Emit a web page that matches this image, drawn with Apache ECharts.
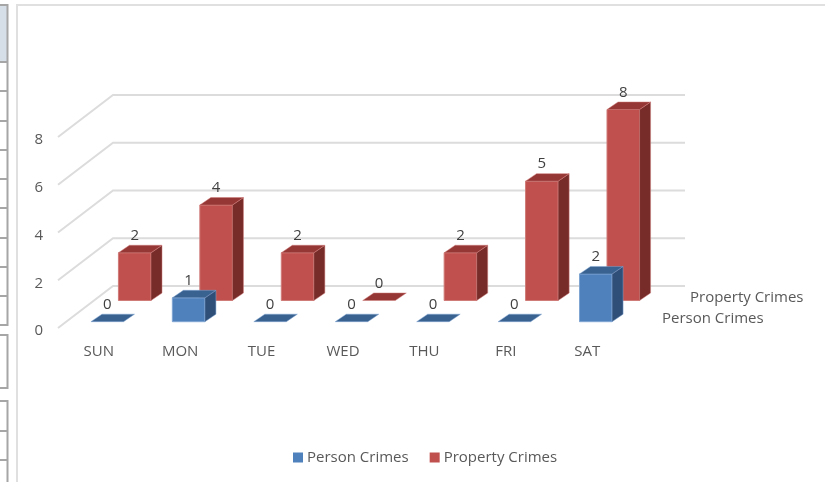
<!DOCTYPE html>
<html>
<head>
<meta charset="utf-8">
<title>Crimes by day</title>
<script src="https://cdn.jsdelivr.net/npm/echarts@6/dist/echarts.min.js"></script>
<style>
  html, body { margin: 0; padding: 0; background: #fff; }
  #chart { width: 831px; height: 482px; }
</style>
</head>
<body>
<div id="chart"></div>
<script>
const days = ['SUN', 'MON', 'TUE', 'WED', 'THU', 'FRI', 'SAT']
const personCrimes = [0, 1, 0, 0, 0, 0, 2]
const propertyCrimes = [2, 4, 2, 0, 2, 5, 8]
const yTicks = [0, 2, 4, 6, 8]

const FONT = '"Open Sans", sans-serif'
const TEXT = '#595959'

// floor depth in pixels, front edge of the floor to the back wall
const WALL_DX = 55
const WALL_DY = -42

// one bar as three faces plus its value on top
function barItem(params, api, offset, colors) {
  const day = api.value(0)
  const val = api.value(1)
  const base = api.coord([day, 0])
  const top = api.coord([day, val])
  const w = api.size([1, 0])[0] * 0.4
  const x0 = base[0] + offset.dx - w / 2
  const x1 = x0 + w
  const y0 = base[1] + offset.dy
  const y1 = top[1] + offset.dy
  const dx = 11
  const dy = -7.5
  const children = []
  if (val > 0) {
    children.push({
      type: 'polygon',
      shape: { points: [[x0, y0], [x1, y0], [x1, y1], [x0, y1]] },
      style: { fill: colors.front, stroke: colors.edge, lineWidth: 1 }
    })
    children.push({
      type: 'polygon',
      shape: { points: [[x1, y0], [x1 + dx, y0 + dy], [x1 + dx, y1 + dy], [x1, y1]] },
      style: { fill: colors.side, stroke: colors.edge, lineWidth: 0.5 }
    })
  }
  children.push({
    type: 'polygon',
    shape: { points: [[x0, y1], [x1, y1], [x1 + dx, y1 + dy], [x0 + dx, y1 + dy]] },
    style: { fill: colors.top, stroke: colors.edge, lineWidth: 0.5 }
  })
  children.push({
    type: 'text',
    style: {
      x: (x0 + x1) / 2,
      y: y1 - 17,
      text: String(val),
      fill: '#404040',
      font: '15px ' + FONT,
      align: 'center',
      verticalAlign: 'middle'
    }
  })
  return { type: 'group', children: children }
}

// wall and floor lines, one per y tick
function gridLine(params, api) {
  const v = api.value(0)
  const left = api.coord([0, v])
  const right = api.coord([days.length - 1, v])
  const half = api.size([1, 0])[0] / 2
  const xa = left[0] - half
  const xb = right[0] + half + 2
  return {
    type: 'polyline',
    shape: { points: [[xa, left[1]], [xa + WALL_DX, left[1] + WALL_DY], [xb + WALL_DX, left[1] + WALL_DY]] },
    style: { fill: 'none', stroke: '#DCDCDC', lineWidth: 2 }
  }
}

const chart = echarts.init(document.getElementById('chart'))
chart.setOption({
  animation: false,
  textStyle: { fontFamily: FONT },
  legend: {
    data: ['Person Crimes', 'Property Crimes'],
    left: 293,
    top: 450,
    icon: 'rect',
    itemWidth: 10,
    itemHeight: 10,
    itemGap: 21,
    textStyle: { color: TEXT, fontSize: 15, fontFamily: FONT, padding: [0, 0, 0, -1] },
    padding: 0
  },
  grid: { left: 58, top: 137, width: 570, height: 191 },
  xAxis: {
    type: 'category',
    data: days,
    axisLine: { show: false },
    axisTick: { show: false },
    axisLabel: { color: TEXT, fontSize: 15, margin: 16, fontFamily: FONT }
  },
  yAxis: {
    type: 'value',
    min: 0,
    max: 8,
    interval: 2,
    axisLine: { show: false },
    axisTick: { show: false },
    splitLine: { show: false },
    axisLabel: {
      margin: 15,
      formatter: '{v|{value}}',
      rich: { v: { color: TEXT, fontSize: 15, fontFamily: FONT, padding: [6, 0, 0, 0] } }
    }
  },
  series: [
    {
      type: 'custom',
      name: 'walls',
      silent: true,
      z: 1,
      encode: { y: 0 },
      data: yTicks.map(v => [v]),
      renderItem: gridLine
    },
    {
      type: 'custom',
      name: 'Property Crimes',
      z: 2,
      itemStyle: { color: '#C0504D' },
      encode: { x: 0, y: 1 },
      data: propertyCrimes.map((v, i) => [i, v]),
      renderItem: (params, api) => barItem(params, api, { dx: 36, dy: -27.5 }, {
        front: '#C0504D', top: '#953735', side: '#772C2A', edge: '#CF7B78'
      })
    },
    {
      type: 'custom',
      name: 'Person Crimes',
      z: 3,
      itemStyle: { color: '#4F81BD' },
      encode: { x: 0, y: 1 },
      data: personCrimes.map((v, i) => [i, v]),
      renderItem: (params, api) => barItem(params, api, { dx: 8.5, dy: -6.3 }, {
        front: '#4F81BD', top: '#3A6291', side: '#2F4F78', edge: '#7FA5D3'
      })
    }
  ],
  graphic: [
    // depth axis names
    { type: 'text', left: 690, top: 290, style: { text: 'Property Crimes', fill: TEXT, font: '15px ' + FONT } },
    { type: 'text', left: 662, top: 311, style: { text: 'Person Crimes', fill: TEXT, font: '15px ' + FONT } },
    // chart border
    { type: 'polyline', z: -1, shape: { points: [[17, 482], [17, 5], [825, 5]] }, style: { fill: 'none', stroke: '#E0E0E0', lineWidth: 2 } },
    // spreadsheet cells left of the chart
    { type: 'rect', z: -1, shape: { x: 0, y: 5, width: 7, height: 57 }, style: { fill: '#D6DEE8' } },
    { type: 'polyline', z: -1, shape: { points: [[0, 5], [7.5, 5], [7.5, 325], [0, 325]] }, style: { fill: 'none', stroke: '#A6A6A6', lineWidth: 2 } },
    { type: 'polyline', z: -1, shape: { points: [[0, 335], [7.5, 335], [7.5, 388], [0, 388]] }, style: { fill: 'none', stroke: '#A6A6A6', lineWidth: 2 } },
    { type: 'polyline', z: -1, shape: { points: [[0, 401], [7.5, 401], [7.5, 482]] }, style: { fill: 'none', stroke: '#A6A6A6', lineWidth: 2 } },
    ...[62, 91, 121, 150, 179, 208, 238, 267, 296, 431, 460].map(y => ({
      type: 'line', z: -1, shape: { x1: 0, y1: y, x2: 7, y2: y }, style: { stroke: '#A6A6A6', lineWidth: 2 }
    }))
  ]
})
</script>
</body>
</html>
